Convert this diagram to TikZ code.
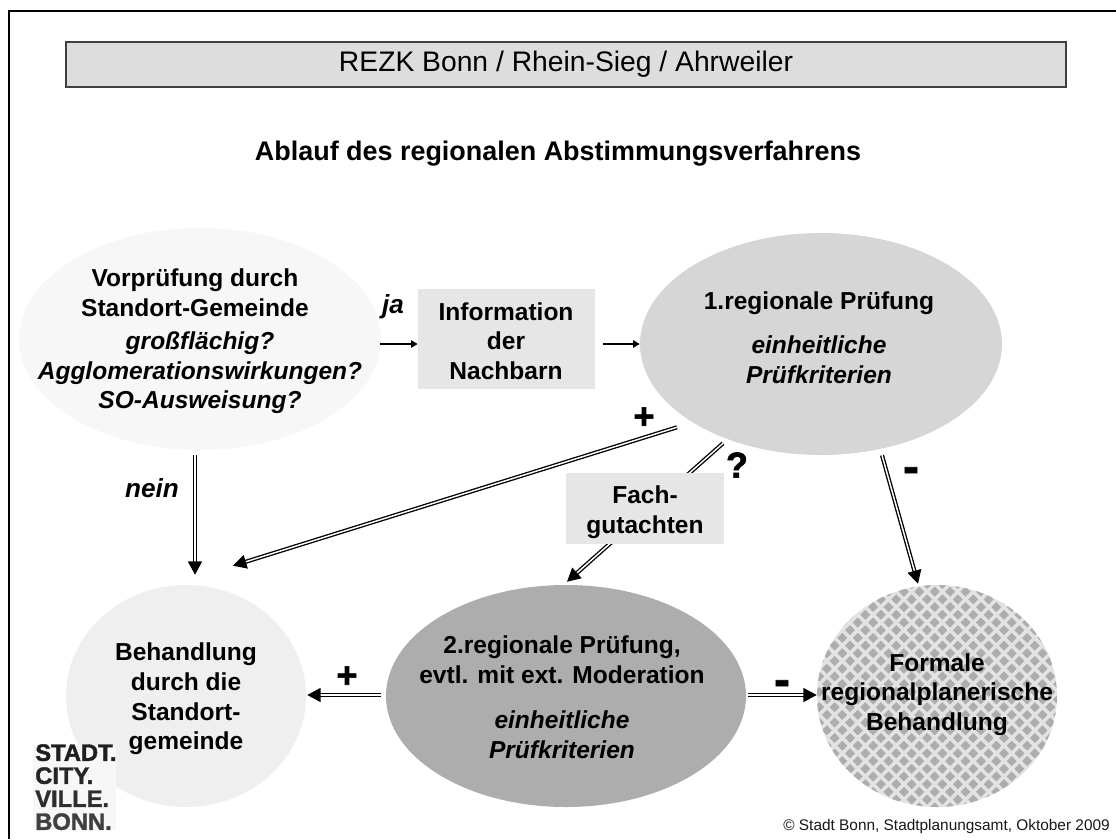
\documentclass[tikz,border=0pt]{standalone}
\usepackage{fontspec}
\setmainfont{Liberation Sans}
\newfontfamily\heavyfont[BoldFeatures={FakeBold=1.6}]{Liberation Sans}
\usetikzlibrary{arrows.meta,shapes.geometric}
\definecolor{boxgrey}{HTML}{DDDDDD}
\definecolor{infogrey}{HTML}{E6E6E6}
\definecolor{eone}{HTML}{F7F7F7}
\definecolor{etwo}{HTML}{D6D6D6}
\definecolor{ethree}{HTML}{ADADAD}
\definecolor{efive}{HTML}{EFEFEF}
\definecolor{checklight}{HTML}{E3E3E3}
\definecolor{checkdark}{HTML}{ADADAD}
\tikzset{
  oval/.style={ellipse,draw=none,inner sep=0pt,fill=#1},
  body/.style={font=\fontsize{18.4pt}{22.2pt}\selectfont\bfseries,align=center,inner sep=0pt,text=black},
  bodyit/.style={font=\fontsize{18.4pt}{22.2pt}\selectfont\bfseries\itshape,align=center,inner sep=0pt,text=black},
  word/.style={font=\fontsize{19.6pt}{22.2pt}\selectfont\bfseries\itshape,inner sep=0pt,text=black},
  sign/.style={font=\fontsize{27pt}{27pt}\selectfont\heavyfont\bfseries,inner sep=0pt,text=black},
  minus sign/.style={font=\fontsize{36pt}{36pt}\selectfont\heavyfont\bfseries,inner sep=0pt,text=black},
  dbl/.style={draw=black,line width=1pt,double=white,double distance=1.1pt,-{Triangle[length=10pt,width=10.5pt]}},
  thin arrow/.style={draw=black,line width=1.1pt,-{Triangle[length=5pt,width=5.5pt]}},
  greybox/.style={fill=infogrey,draw=none,inner sep=0pt}
}
\begin{document}
\begin{tikzpicture}[x=0.75pt,y=-0.75pt]
\useasboundingbox (0,0) rectangle (1116,839);
\fill[white] (0,0) rectangle (1116,839);
% frame
\coordinate (frameBL) at (9,839);
\coordinate (frameTL) at (9,11);
\coordinate (frameTR) at (1116,11);
\draw[line width=2pt,line join=miter] (frameBL) -- (frameTL) -- (frameTR);
% title
\node[draw=black!75,line width=1.5pt,fill=boxgrey,minimum width=1000*0.75pt,minimum height=45*0.75pt,inner sep=0pt,font=\fontsize{21.2pt}{24pt}\selectfont] (head) at (566,64.5) {\raisebox{-1.5pt}{REZK Bonn / Rhein-Sieg / Ahrweiler}};
\node[font=\fontsize{20.2pt}{24pt}\selectfont\bfseries,inner sep=0pt] (title) at (558,154) {Ablauf des regionalen Abstimmungsverfahrens};
% ovals
\node[oval=eone,minimum width=362*0.75pt,minimum height=222*0.75pt] (e1) at (200,339) {};
\node[oval=etwo,minimum width=362*0.75pt,minimum height=222*0.75pt] (e2) at (821,344) {};
\node[oval=ethree,minimum width=360*0.75pt,minimum height=222*0.75pt] (e3) at (566,696) {};
\node[oval=efive,minimum width=240*0.75pt,minimum height=222*0.75pt] (e5) at (186,696) {};
\node[oval=checklight,minimum width=240*0.75pt,minimum height=222*0.75pt] (e4) at (937,696) {};
\begin{scope}
\clip (937,696) ellipse (120 and 111);
\foreach \r in {0,...,30}{
  \foreach \c in {-9,...,9}{
    \pgfmathsetmacro{\cx}{919.3+15.4*\c+(mod(\r,2)==0?7.7:0)}
    \pgfmathsetmacro{\cy}{584+7.7*\r}
    \fill[checkdark] (\cx-5,\cy) -- (\cx,\cy-5) -- (\cx+5,\cy) -- (\cx,\cy+5) -- cycle;
  }
}
\end{scope}
% connectors
\draw[dbl] ([shift={(-5,5)}]e1.south) -- ([shift={(9,-10)}]e5.north);
\draw[dbl] ([shift={(-144,-28)}]e2.south) -- ([shift={(47,-19)}]e5.north);
\draw[dbl] ([shift={(-98,-12)}]e2.south) -- ([shift={(1,-3)}]e3.north);
\draw[dbl] ([shift={(61,0)}]e2.south) -- ([shift={(-19,-1)}]e4.north);
\draw[dbl] ([shift={(-5,-1)}]e3.west) -- ([shift={(1,-1)}]e5.east);
\draw[dbl] ([shift={(2,-1)}]e3.east) -- ([shift={(0,-1)}]e4.west);
% boxes
\node[greybox,minimum width=177*0.75pt,minimum height=100*0.75pt] (info) at (506.5,339) {};
\node[greybox,minimum width=158*0.75pt,minimum height=71*0.75pt] (fach) at (645,508.5) {};
\draw[thin arrow] ([shift={(-1,5)}]e1.east) -- ([shift={(0,5)}]info.west);
\draw[thin arrow] ([shift={(8,5)}]info.east) -- (e2.west);
% texts
\node[body] (t1) at (195,293) {Vorprüfung durch\\Standort-Gemeinde};
\node[bodyit] (t1b) at (200,373) {großflächig?\\Agglomerationswirkungen?\\SO-Ausweisung?};
\node[body] (t2) at (506,341) {Information\\der\\Nachbarn};
\node[body] (t3) at (819,303) {1.regionale Prüfung};
\node[bodyit] (t3b) at (819,360) {einheitliche\\Prüfkriterien};
\node[body] (t4) at (645,512.5) {Fach-\\gutachten};
\node[body] (t5) at (562,660) {2.regionale Prüfung,\\evtl. mit ext. Moderation};
\node[bodyit] (t5b) at (562,735) {einheitliche\\Prüfkriterien};
\node[body] (t6) at (186,699) {Behandlung\\durch die\\Standort-\\gemeinde};
\node[body] (t7) at (937,694.5) {Formale\\regionalplanerische\\Behandlung};
\node[word] (ja) at (393,307) {ja};
\node[word] (nein) at (152,488) {nein};
\node[sign] (p1) at (644,418) {+};
\node[sign] (q) at (737,465) {?};
\node[minus sign] (m1) at (911,475) {-};
\node[sign] (p2) at (347,677) {+};
\node[minus sign] (m2) at (782,688) {-};
% logo
\node[fill=eone,minimum width=83*0.75pt,minimum height=85*0.75pt,inner sep=0pt] (logobg) at (74.5,787.5) {};
\node[font=\fontsize{17.8pt}{17.25pt}\selectfont\heavyfont\bfseries,align=left,inner sep=0pt,anchor=north west] (logo) at (35,744) {\textcolor{black!88}{STADT.}\\\textcolor{black!85}{CITY.}\\\textcolor{black!82}{VILLE.}\\\textcolor{black!75}{BONN.}};
\node[font=\fontsize{11.55pt}{14pt}\selectfont,inner sep=0pt,anchor=east,text=black!90] (copy) at (1110,827) {© Stadt Bonn, Stadtplanungsamt, Oktober 2009};
\end{tikzpicture}
\end{document}
